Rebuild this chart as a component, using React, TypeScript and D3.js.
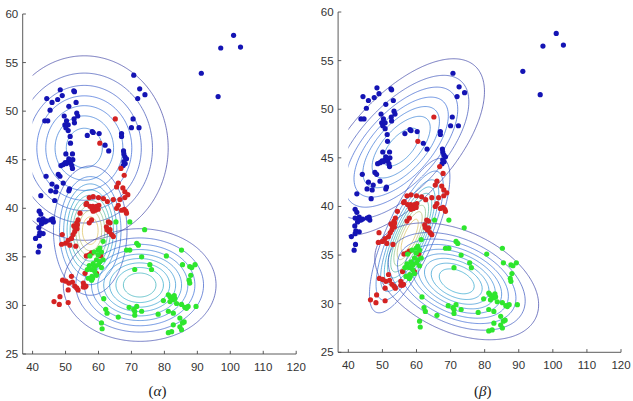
import React from "react";
import * as d3 from "d3";

// ---------- data ----------
const bluePoints: [number, number][] = [
  [70.7,53.7],[72.5,52.3],[74.1,51.7],[71.9,51.3],[70.5,49.2],[70.0,48.3],[72.3,48.3],[67.0,47.7],[67.0,47.4],
  [67.6,45.9],[67.7,45.6],[68.0,45.3],[68.5,45.1],[67.7,44.8],[68.1,44.6],[67.5,44.4],
  [56.6,47.5],[58.1,47.9],[58.4,47.8],[60.2,47.7],[62.0,46.5],[63.1,45.9],
  [48.4,52.2],[52.5,52.1],[52.7,52.0],[44.3,51.3],[47.6,51.2],[49.0,51.6],[45.9,50.9],[45.3,50.1],[53.2,50.9],
  [51.0,50.5],[43.7,49.0],[44.6,49.0],[49.6,49.5],[53.4,49.8],[53.7,49.5],[52.6,49.2],[50.3,49.0],[49.8,48.6],
  [50.8,48.6],[50.1,48.3],[50.8,48.0],[51.4,47.4],[51.5,46.7],[52.7,48.8],
  [50.1,45.6],[52.1,45.6],[48.6,44.4],[49.3,44.5],[49.9,44.7],[50.8,44.8],[51.5,44.7],[51.9,44.4],[52.2,45.0],
  [51.0,45.1],[50.3,44.6],[52.1,44.1],
  [44.1,43.3],[47.8,43.5],[48.3,43.3],[45.9,42.5],[47.3,42.2],[49.3,42.6],[45.5,41.8],[47.0,41.7],[42.5,41.3],
  [51.2,42.0],[51.0,41.8],[46.7,40.8],
  [42.0,39.7],[42.5,39.4],[42.0,38.8],[43.2,38.9],[43.7,38.6],[42.9,38.5],[44.2,38.7],[45.5,38.8],[46.1,38.9],
  [46.3,38.6],[42.7,38.4],[41.9,38.0],[42.2,37.5],[43.2,37.4],[42.0,37.2],[40.9,36.9],[42.1,36.1],[41.7,35.5],
  [101.0,57.8],[97.1,56.5],[103.1,56.6],[91.2,53.9],[96.3,51.5],
];

const redPoints: [number, number][] = [
  [65.1,49.2],[60.4,46.7],[66.8,44.1],[67.8,43.4],[66.0,42.6],[65.5,42.2],[67.4,42.1],[68.0,41.7],[68.9,41.4],
  [57.2,41.1],[58.4,41.2],[60.0,41.1],[61.5,41.0],[64.5,40.9],[62.7,40.7],[66.5,40.9],[68.0,41.1],
  [56.4,40.5],[57.4,40.2],[58.3,40.2],[59.4,40.2],[60.1,40.3],[58.1,39.9],[59.1,39.8],[59.9,39.9],[58.4,39.7],[56.2,40.4],
  [65.5,40.0],[67.0,39.8],[67.8,39.9],[68.3,39.7],[68.5,39.5],[66.0,40.3],
  [63.0,38.6],[63.5,38.5],[62.4,38.1],[63.5,37.8],[62.6,37.8],[63.2,37.6],[64.0,37.3],[64.5,37.1],
  [57.9,38.8],[57.2,38.5],
  [54.4,39.5],[53.8,38.8],[53.4,38.5],[52.5,38.2],[53.5,37.9],[52.8,37.6],[52.3,37.3],[51.8,36.9],[50.8,36.7],
  [50.0,36.4],[49.0,37.3],[48.8,36.3],[51.3,36.2],[53.1,36.1],[52.9,38.0],[53.6,38.3],
  [57.2,35.2],[57.9,35.4],[56.3,35.1],[60.7,35.1],
  [55.9,33.3],[55.4,32.3],[55.9,31.9],[59.4,33.3],
  [49.1,32.6],[50.1,32.5],[51.0,32.3],[51.8,33.0],[52.1,32.4],[52.8,32.0],[53.4,31.8],[53.8,31.6],[55.4,31.9],
  [56.2,32.0],[50.8,31.6],
  [48.3,30.9],[46.5,30.4],[48.1,30.1],[50.8,30.3],
];

const greenPoints: [number, number][] = [
  [65.3,38.6],[69.5,38.6],[74.0,37.8],[61.4,36.6],[68.5,35.7],[69.5,35.7],[71.6,36.4],[72.1,36.2],[73.1,35.0],
  [75.6,34.2],[76.1,33.7],[71.0,33.7],[80.6,35.1],[85.2,35.7],[85.5,34.2],[87.7,34.0],[88.3,33.9],[88.0,33.1],
  [87.5,32.6],[87.7,32.3],[89.3,34.2],[89.6,29.9],
  [61.6,30.7],[62.2,29.6],[62.6,29.2],[60.9,28.2],[61.1,27.6],[66.0,28.8],
  [69.3,29.8],[70.7,29.6],[71.6,29.9],[71.0,29.4],[71.0,29.0],[73.1,29.4],[78.1,29.1],
  [79.7,30.5],[81.2,31.1],[81.7,30.9],[82.2,30.7],[82.7,30.6],[83.2,30.7],[83.7,30.2],[81.7,30.4],[83.0,31.0],
  [81.2,29.4],[82.7,29.2],
  [85.2,30.1],[86.2,29.8],[87.2,29.9],[86.7,29.7],[84.7,28.7],[85.5,28.2],[86.0,28.3],[84.7,27.8],[82.7,28.0],
  [81.2,27.2],[82.2,27.3],[85.2,27.5],
  [57.4,35.1],[58.7,35.5],[59.9,35.7],[60.4,35.9],[60.9,35.5],[59.4,34.7],[58.4,34.3],[57.2,34.1],[57.9,33.7],
  [58.9,33.5],[56.9,32.8],[57.9,32.6],[59.4,33.1],[60.4,34.5],[61.4,34.7],[59.9,35.2],[56.6,33.7],[58.6,34.1],
  [60.9,33.9],[58.0,33.0],[59.0,34.0],[58.2,32.8],[60.0,34.2],
];

// Gaussian components: mean, standard deviations, correlation
const alphaBlue = { mx: 55.7, my: 46.2, sx: 12.6, sy: 4.7, rho: 0 };
const alphaRed = { mx: 57.5, my: 37.7, sx: 5.2, sy: 3.1, rho: 0 };
const alphaGreen = { mx: 72.5, my: 32.1, sx: 10.8, sy: 2.7, rho: 0 };
const betaBlue = { mx: 55.5, my: 46.1, sx: 12.1, sy: 4.5, rho: 0.63 };
const betaRed = { mx: 58.0, my: 37.0, sx: 5.5, sy: 3.7, rho: 0.76 };
const betaGreen = { mx: 71.8, my: 32.3, sx: 11.2, sy: 2.8, rho: -0.4 };

// contour levels as fractions of each component's peak density
const blueLevels = [0.13, 0.26, 0.39, 0.52, 0.65, 0.78, 0.91];
const clusterLevels = [0.1, 0.2, 0.3, 0.4, 0.5, 0.6, 0.7, 0.8, 0.9];

const xTicks = [40, 50, 60, 70, 80, 90, 100, 110, 120];
const yTicks = [25, 30, 35, 40, 45, 50, 55, 60];
const captions = ["α", "β"];

// ---------- styling ----------
const parulaStops = ["#3a2f8f", "#2c5fd6", "#2a84d2", "#1ea4c8", "#3db5a6", "#8abf7a", "#d2bb5e", "#f8c63e", "#f5f22a"];
const parula = d3
  .scaleLinear<string>()
  .domain(parulaStops.map((_, i) => i / (parulaStops.length - 1)))
  .range(parulaStops)
  .clamp(true);

const BLUE = "#1414b4";
const RED = "#d42222";
const GREEN = "#2ee62e";

type Comp = { mx: number; my: number; sx: number; sy: number; rho: number };

const GX0 = 10, GX1 = 125, GY0 = 15, GY1 = 70, STEP = 0.25;
const NX = Math.round((GX1 - GX0) / STEP) + 1;
const NY = Math.round((GY1 - GY0) / STEP) + 1;

function peak(c: Comp) {
  return 1 / (2 * Math.PI * c.sx * c.sy * Math.sqrt(1 - c.rho * c.rho));
}

function gridValues(c: Comp) {
  const v = new Array(NX * NY);
  const r2 = 1 - c.rho * c.rho;
  for (let j = 0; j < NY; j++) {
    const y = GY0 + j * STEP;
    const dy = (y - c.my) / c.sy;
    for (let i = 0; i < NX; i++) {
      const x = GX0 + i * STEP;
      const dx = (x - c.mx) / c.sx;
      const q = (dx * dx - 2 * c.rho * dx * dy + dy * dy) / r2;
      v[j * NX + i] = Math.exp(-0.5 * q);
    }
  }
  return v;
}

type PanelProps = {
  id: string;
  x0: number; x1: number; yTop: number; yBot: number;
  comps: { c: Comp; levels: number[] }[];
  caption: string; capX: number;
};

function Panel({ id, x0, x1, yTop, yBot, comps, caption, capX }: PanelProps) {
  const xs = d3.scaleLinear().domain([37, 120]).range([x0, x1]);
  const ys = d3.scaleLinear().domain([25, 60]).range([yBot, yTop]);
  const cmax = 1.15 * d3.max(comps, (d) => peak(d.c))!;
  const proj = d3.geoTransform({
    point(gx: number, gy: number) {
      (this as any).stream.point(xs(GX0 + (gx - 0.5) * STEP), ys(GY0 + (gy - 0.5) * STEP));
    },
  });
  const path = d3.geoPath(proj);
  const tick = 3.2;
  const axisColor = "#4a4a4a";
  const textColor = "#333";

  return (
    <g>
      <defs>
        <clipPath id={`clip-${id}`}>
          <rect x={xs(40)} y={ys(60)} width={xs(120) - xs(40)} height={ys(25) - ys(60)} />
        </clipPath>
      </defs>
      <g clipPath={`url(#clip-${id})`} fill="none">
        {comps.map((d, ci) => {
          const vals = gridValues(d.c);
          const cs = d3.contours().size([NX, NY]).thresholds(d.levels)(vals);
          const pk = peak(d.c);
          return cs.map((m, k) => (
            <path
              key={`${ci}-${k}`}
              d={path(m as any) || ""}
              stroke={parula((d.levels[k] * pk) / cmax)}
              strokeWidth={0.85}
              strokeOpacity={0.8}
            />
          ));
        })}
      </g>
      {/* points */}
      <g>
        {bluePoints.map((p, i) => (
          <circle key={`b${i}`} cx={xs(p[0])} cy={ys(p[1])} r={2.6} fill={BLUE} />
        ))}
        {redPoints.map((p, i) => (
          <circle key={`r${i}`} cx={xs(p[0])} cy={ys(p[1])} r={2.6} fill={RED} />
        ))}
        {greenPoints.map((p, i) => (
          <circle key={`g${i}`} cx={xs(p[0])} cy={ys(p[1])} r={2.6} fill={GREEN} />
        ))}
      </g>
      {/* axes */}
      <line x1={xs(37)} x2={xs(120)} y1={ys(25)} y2={ys(25)} stroke={axisColor} strokeWidth={0.9} />
      <line x1={xs(37)} x2={xs(37)} y1={ys(25)} y2={ys(60)} stroke={axisColor} strokeWidth={0.9} />
      {xTicks.map((t) => (
        <g key={`xt${t}`}>
          <line x1={xs(t)} x2={xs(t)} y1={ys(25)} y2={ys(25) - tick} stroke={axisColor} strokeWidth={0.9} />
          <text x={xs(t)} y={ys(25) + 17} textAnchor="middle" fontSize={11.5} fill={textColor}
            fontFamily="'Liberation Sans', Arial, sans-serif">{t}</text>
        </g>
      ))}
      {yTicks.map((t) => (
        <g key={`yt${t}`}>
          <line x1={xs(37)} x2={xs(37) + tick} y1={ys(t)} y2={ys(t)} stroke={axisColor} strokeWidth={0.9} />
          <text x={xs(37) - 4.5} y={ys(t) + 4} textAnchor="end" fontSize={11.5} fill={textColor}
            fontFamily="'Liberation Sans', Arial, sans-serif">{t}</text>
        </g>
      ))}
      <text x={capX} y={396} textAnchor="middle" fontSize={15} fill="#222" fontFamily="'Liberation Serif', 'DejaVu Serif', serif">
        (<tspan fontStyle="italic">{caption}</tspan>)
      </text>
    </g>
  );
}

export default function App() {
  return (
    <svg width={633} height={401} style={{ position: "absolute", left: 0, top: 0, background: "#fff" }}>
      <rect width={633} height={401} fill="#fff" />
      <Panel
        id="a" x0={22.7} x1={296.2} yTop={14} yBot={354}
        comps={[
          { c: alphaBlue, levels: blueLevels },
          { c: alphaRed, levels: clusterLevels },
          { c: alphaGreen, levels: clusterLevels },
        ]}
        caption={captions[0]} capX={157.5}
      />
      <Panel
        id="b" x0={338.1} x1={621} yTop={12} yBot={352.3}
        comps={[
          { c: betaBlue, levels: blueLevels },
          { c: betaRed, levels: clusterLevels },
          { c: betaGreen, levels: clusterLevels },
        ]}
        caption={captions[1]} capX={482.7}
      />
    </svg>
  );
}
